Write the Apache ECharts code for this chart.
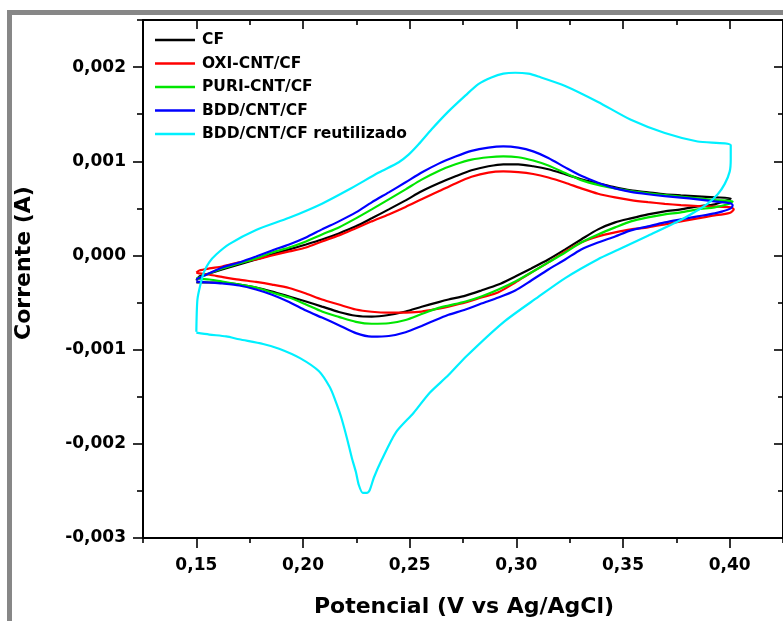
<!DOCTYPE html>
<html>
<head>
<meta charset="utf-8">
<script src="https://cdn.jsdelivr.net/npm/echarts@6/dist/echarts.min.js"></script>
<style>
html,body{margin:0;padding:0;background:#fff;}
#chart{width:783px;height:621px;}
</style>
</head>
<body>
<div id="chart"></div>
<script>
// ---- Data (Potential in V vs Ag/AgCl, Current in A) ----
const seriesNames = ['CF', 'OXI-CNT/CF', 'PURI-CNT/CF', 'BDD/CNT/CF', 'BDD/CNT/CF reutilizado'];

const cfPotential = [0.1500,0.1514,0.1561,0.1621,0.1701,0.1780,0.1855,0.1935,0.2014,0.2089,0.2168,0.2248,0.2322,0.2402,0.2481,0.2556,0.2636,0.2715,0.2790,0.2869,0.2939,0.3009,0.3079,0.3150,0.3229,0.3304,0.3383,0.3463,0.3537,0.3617,0.3696,0.3771,0.3850,0.3930,0.4005,
  0.3930,0.3850,0.3771,0.3696,0.3617,0.3537,0.3463,0.3383,0.3304,0.3229,0.3150,0.3070,0.2995,0.2916,0.2836,0.2762,0.2682,0.2636,0.2556,0.2481,0.2402,0.2322,0.2248,0.2168,0.2089,0.2014,0.1935,0.1855,0.1780,0.1701,0.1621,0.1561,0.1500];
const cfCurrent = [-0.000266,-0.000223,-0.000191,-0.000149,-0.000096,-0.000043,0.000011,0.000064,0.000117,0.000170,0.000234,0.000309,0.000394,0.000489,0.000585,0.000681,0.000766,0.000840,0.000904,0.000947,0.000968,0.000968,0.000947,0.000915,0.000862,0.000809,0.000766,0.000723,0.000691,0.000670,0.000649,0.000638,0.000628,0.000617,0.000606,
  0.000543,0.000521,0.000489,0.000468,0.000436,0.000394,0.000351,0.000277,0.000170,0.000064,-0.000043,-0.000138,-0.000223,-0.000309,-0.000372,-0.000426,-0.000468,-0.000495,-0.000545,-0.000595,-0.000632,-0.000649,-0.000640,-0.000600,-0.000543,-0.000489,-0.000436,-0.000383,-0.000340,-0.000309,-0.000287,-0.000287,-0.000287];

const oxiPotential = [0.1500,0.1514,0.1561,0.1621,0.1701,0.1780,0.1855,0.1935,0.2014,0.2089,0.2168,0.2248,0.2322,0.2402,0.2481,0.2556,0.2636,0.2715,0.2790,0.2869,0.2939,0.3009,0.3079,0.3150,0.3229,0.3304,0.3383,0.3463,0.3537,0.3617,0.3696,0.3771,0.3850,0.3930,0.4005,0.4019,
  0.4005,0.3967,0.3930,0.3850,0.3771,0.3696,0.3617,0.3537,0.3463,0.3383,0.3304,0.3229,0.3150,0.3070,0.2995,0.2916,0.2836,0.2762,0.2682,0.2636,0.2556,0.2481,0.2402,0.2322,0.2248,0.2168,0.2089,0.2014,0.1935,0.1855,0.1780,0.1701,0.1621,0.1561,0.1514,0.1500];
const oxiCurrent = [-0.000181,-0.000160,-0.000138,-0.000117,-0.000074,-0.000043,0.000000,0.000043,0.000085,0.000149,0.000213,0.000290,0.000362,0.000436,0.000515,0.000596,0.000681,0.000765,0.000835,0.000880,0.000892,0.000885,0.000865,0.000828,0.000772,0.000712,0.000655,0.000617,0.000588,0.000566,0.000548,0.000535,0.000525,0.000520,0.000511,0.000489,
  0.000457,0.000436,0.000426,0.000394,0.000362,0.000330,0.000298,0.000277,0.000245,0.000202,0.000138,0.000043,-0.000074,-0.000181,-0.000287,-0.000390,-0.000447,-0.000500,-0.000543,-0.000564,-0.000596,-0.000606,-0.000608,-0.000598,-0.000574,-0.000521,-0.000468,-0.000404,-0.000345,-0.000309,-0.000281,-0.000257,-0.000228,-0.000205,-0.000191,-0.000181];

const puriPotential = [0.1500,0.1537,0.1621,0.1701,0.1780,0.1855,0.1935,0.2014,0.2089,0.2168,0.2248,0.2322,0.2402,0.2481,0.2556,0.2636,0.2715,0.2790,0.2869,0.2939,0.3009,0.3079,0.3150,0.3229,0.3304,0.3383,0.3463,0.3537,0.3617,0.3696,0.3771,0.3850,0.3930,0.4014,
  0.3991,0.3930,0.3850,0.3771,0.3696,0.3617,0.3537,0.3463,0.3383,0.3304,0.3229,0.3150,0.3070,0.2995,0.2916,0.2836,0.2762,0.2682,0.2636,0.2556,0.2481,0.2402,0.2322,0.2248,0.2168,0.2089,0.2014,0.1935,0.1855,0.1780,0.1701,0.1621,0.1561,0.1500];
const puriCurrent = [-0.000245,-0.000213,-0.000138,-0.000085,-0.000032,0.000032,0.000085,0.000149,0.000223,0.000298,0.000394,0.000489,0.000596,0.000702,0.000805,0.000898,0.000968,0.001018,0.001043,0.001052,0.001043,0.001008,0.000955,0.000875,0.000800,0.000750,0.000713,0.000684,0.000660,0.000640,0.000626,0.000606,0.000588,0.000574,
  0.000543,0.000511,0.000489,0.000457,0.000436,0.000404,0.000362,0.000298,0.000223,0.000138,0.000032,-0.000074,-0.000181,-0.000277,-0.000362,-0.000436,-0.000489,-0.000532,-0.000557,-0.000622,-0.000685,-0.000720,-0.000725,-0.000705,-0.000652,-0.000596,-0.000521,-0.000447,-0.000394,-0.000340,-0.000309,-0.000277,-0.000255,-0.000245];

const bddPotential = [0.1500,0.1537,0.1621,0.1701,0.1780,0.1855,0.1935,0.2014,0.2089,0.2168,0.2248,0.2322,0.2402,0.2481,0.2556,0.2636,0.2715,0.2790,0.2869,0.2939,0.3009,0.3079,0.3150,0.3229,0.3304,0.3383,0.3463,0.3537,0.3617,0.3696,0.3771,0.3850,0.3930,0.4005,0.4014,
  0.4005,0.3967,0.3930,0.3850,0.3771,0.3696,0.3617,0.3537,0.3463,0.3383,0.3304,0.3229,0.3150,0.3070,0.2995,0.2916,0.2836,0.2762,0.2682,0.2636,0.2556,0.2481,0.2402,0.2322,0.2248,0.2168,0.2089,0.2014,0.1935,0.1855,0.1780,0.1701,0.1621,0.1561,0.1500];
const bddCurrent = [-0.000255,-0.000213,-0.000128,-0.000074,-0.000011,0.000053,0.000117,0.000191,0.000277,0.000362,0.000457,0.000564,0.000670,0.000777,0.000880,0.000975,0.001050,0.001110,0.001145,0.001158,0.001145,0.001105,0.001035,0.000935,0.000845,0.000772,0.000712,0.000675,0.000650,0.000630,0.000615,0.000596,0.000574,0.000553,0.000532,
  0.000500,0.000468,0.000447,0.000415,0.000383,0.000351,0.000309,0.000266,0.000202,0.000138,0.000064,-0.000043,-0.000149,-0.000266,-0.000372,-0.000447,-0.000511,-0.000574,-0.000630,-0.000672,-0.000748,-0.000815,-0.000855,-0.000862,-0.000825,-0.000740,-0.000660,-0.000585,-0.000495,-0.000418,-0.000362,-0.000319,-0.000298,-0.000287,-0.000277];

const reusedPotential = [0.1500,0.1505,0.1519,0.1537,0.1561,0.1593,0.1654,0.1780,0.1935,0.2089,0.2215,0.2355,0.2449,0.2495,0.2542,0.2603,0.2682,0.2762,0.2822,0.2883,0.2939,0.2995,0.3056,0.3103,0.3229,0.3383,0.3537,0.3696,0.3850,0.4005,
  0.4005,0.4000,0.3977,0.3944,0.3897,0.3850,0.3757,0.3617,0.3477,0.3383,0.3229,0.3103,0.2939,0.2766,0.2682,0.2593,0.2519,0.2435,0.2369,0.2332,0.2313,0.2299,0.2280,0.2262,0.2248,0.2229,0.2206,0.2178,0.2150,0.2126,0.2075,0.1986,0.1888,0.1813,0.1701,0.1640,0.1561,0.1500];
const reusedCurrent = [-0.00081,-0.00047,-0.00031,-0.00017,-0.00007,0.00001,0.00012,0.00027,0.00040,0.00055,0.00070,0.00088,0.00099,0.00107,0.00118,0.00134,0.00153,0.00170,0.00182,0.00189,0.00193,0.00194,0.00193,0.00190,0.00180,0.00163,0.00144,0.00130,0.00121,0.00117,
  0.00102,0.00089,0.00076,0.00065,0.00055,0.00048,0.00036,0.00021,0.00006,-0.00004,-0.00024,-0.00044,-0.00071,-0.00107,-0.00127,-0.00146,-0.00167,-0.00188,-0.00217,-0.00236,-0.00249,-0.00252,-0.00252,-0.00244,-0.00230,-0.00215,-0.00194,-0.00171,-0.00153,-0.00140,-0.00123,-0.00109,-0.00099,-0.00094,-0.00089,-0.00086,-0.00084,-0.00082];

const xMajorTicks = [0.15, 0.20, 0.25, 0.30, 0.35, 0.40];
const xMinorTicks = [0.125, 0.175, 0.225, 0.275, 0.325, 0.375, 0.425];
const yMajorTicks = [-0.003, -0.002, -0.001, 0, 0.001, 0.002];
const yMinorTicks = [-0.0025, -0.0015, -0.0005, 0.0005, 0.0015, 0.0025];

const seriesColors = ['#000000', '#ff0000', '#00e600', '#0000ff', '#00f0ff'];
const potentials = [cfPotential, oxiPotential, puriPotential, bddPotential, reusedPotential];
const currents = [cfCurrent, oxiCurrent, puriCurrent, bddCurrent, reusedCurrent];

// ---- Chart ----
const FONT = "'DejaVu Sans', 'Liberation Sans', sans-serif";
const X_MIN = 0.125, X_MAX = 0.425, Y_MIN = -0.003, Y_MAX = 0.0025;
const chart = echarts.init(document.getElementById('chart'), null, {renderer: 'canvas'});

const black = {color: '#000', width: 2};
const tickStyle = {color: '#000', width: 1.6};
const fmtX = v => Number(v).toFixed(2).replace('.', ',');
const fmtY = v => Number(v).toFixed(3).replace('.', ',');
const labelBase = {fontFamily: FONT, fontWeight: 'bold', fontSize: 17, color: '#000'};

function xAx(pos, custom, len, inside, showLine, showLabel) {
  return {
    type: 'value', position: pos, min: X_MIN, max: X_MAX, interval: 0.025,
    axisLine: {show: showLine, onZero: false, lineStyle: black},
    axisTick: {show: true, inside: inside, length: len, customValues: custom, lineStyle: tickStyle},
    axisLabel: showLabel ? Object.assign({customValues: custom, formatter: fmtX, margin: 19}, labelBase) : {show: false},
    splitLine: {show: false}
  };
}
function yAx(pos, custom, len, inside, showLine, showLabel) {
  return {
    type: 'value', position: pos, min: Y_MIN, max: Y_MAX, interval: 0.0005,
    axisLine: {show: showLine, onZero: false, lineStyle: black},
    axisTick: {show: true, inside: inside, length: len, customValues: custom, lineStyle: tickStyle},
    axisLabel: showLabel ? Object.assign({customValues: custom, formatter: fmtY, margin: 17}, labelBase) : {show: false},
    splitLine: {show: false}
  };
}

const option = {
  backgroundColor: '#ffffff',
  animation: false,
  grid: {left: 143, top: 20, width: 642, height: 518, containLabel: false},
  xAxis: [
    xAx('bottom', xMajorTicks, 10, false, true, true),
    xAx('bottom', xMinorTicks, 5, false, false, false),
    xAx('top', xMajorTicks, 9, true, true, false),
    xAx('top', xMinorTicks, 5, true, false, false)
  ],
  yAxis: [
    yAx('left', yMajorTicks, 10, false, true, true),
    yAx('left', yMinorTicks, 6, false, false, false),
    yAx('right', yMajorTicks, 9, true, true, false),
    yAx('right', yMinorTicks, 5, true, false, false)
  ],
  legend: {
    orient: 'vertical', left: 155, top: 32, padding: 0,
    itemWidth: 40, itemHeight: 2.5, itemGap: 7.5, icon: 'rect',
    textStyle: {fontFamily: FONT, fontWeight: 'bold', fontSize: 15.5, color: '#000', padding: [0, 0, 0, 2]},
    data: seriesNames
  },
  series: seriesNames.map((name, k) => ({
    name: name, type: 'line', xAxisIndex: 0, yAxisIndex: 0,
    data: potentials[k].map((v, i) => [v, currents[k][i]]),
    showSymbol: false, symbol: 'none', smooth: 0.25,
    lineStyle: {color: seriesColors[k], width: 2.2},
    itemStyle: {color: seriesColors[k]},
    z: 2 + k
  })),
  graphic: [
    {type: 'rect', shape: {x: 9.5, y: 12.5, width: 900, height: 900},
     style: {stroke: '#878787', lineWidth: 5, fill: null}, silent: true, z: 100},
    {type: 'text', x: 24, y: 263, rotation: Math.PI / 2,
     style: {text: 'Corrente (A)', fontFamily: FONT, fontWeight: 'bold', fontSize: 22, fill: '#000', align: 'center', verticalAlign: 'middle'}},
    {type: 'text', x: 464, y: 607,
     style: {text: 'Potencial (V vs Ag/AgCl)', fontFamily: FONT, fontWeight: 'bold', fontSize: 22, fill: '#000', align: 'center', verticalAlign: 'middle'}}
  ]
};
chart.setOption(option);
</script>
</body>
</html>
